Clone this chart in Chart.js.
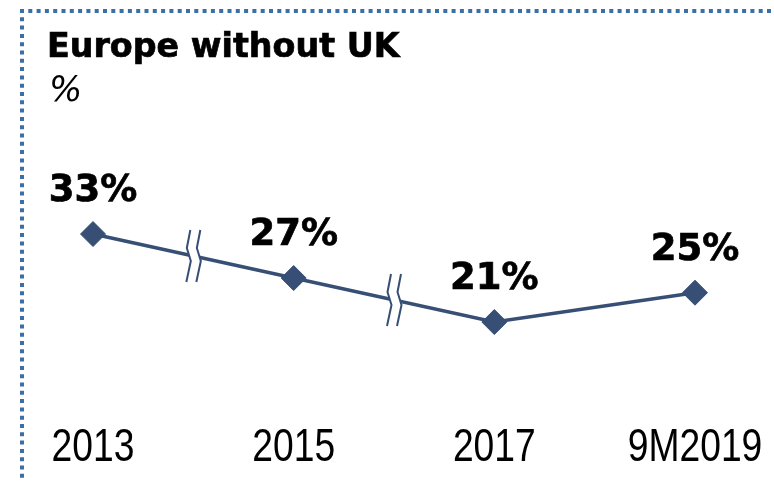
<!DOCTYPE html>
<html>
<head>
<meta charset="utf-8">
<script src="https://cdn.jsdelivr.net/npm/chart.js@4"></script>
<style>
  body { margin: 0; background: #ffffff; }
  #wrap { position: relative; width: 774px; height: 481px; }
</style>
</head>
<body>
<div id="wrap"><canvas id="shareChart"></canvas></div>
<script>
// 연도별 비중 (%)
const labels = ['2013', '2015', '2017', '9M2019'];
const shares = [33, 27, 21, 25];
// 축이 끊기는 구간 (해당 인덱스와 다음 인덱스 사이)
const breaks = [0, 1];

const titleText = 'Europe without UK';
const unitText = '%';

const lineColor = '#374f75';
const frameColor = '#3b6fa7';

// 굵은 글씨를 조금 더 진하게
function boldText(ctx, text, x, y) {
  ctx.fillText(text, x, y);
  ctx.lineWidth = 0.7;
  ctx.strokeStyle = ctx.fillStyle;
  ctx.strokeText(text, x, y);
}

// 점선 테두리 + 제목
const framePlugin = {
  id: 'frame',
  afterDraw(chart) {
    const ctx = chart.ctx;
    ctx.save();
    ctx.strokeStyle = frameColor;
    ctx.lineWidth = 4;
    ctx.setLineDash([4, 4.3]);
    ctx.beginPath();
    ctx.moveTo(20, 11);
    ctx.lineTo(chart.width, 11);
    ctx.moveTo(22, 9);
    ctx.lineTo(22, chart.height);
    ctx.stroke();
    ctx.setLineDash([]);

    ctx.fillStyle = '#000000';
    ctx.textAlign = 'left';
    ctx.textBaseline = 'alphabetic';
    ctx.font = 'bold 33.3px "DejaVu Sans"';
    boldText(ctx, titleText, 47, 57);
    ctx.font = 'oblique 35px "DejaVu Sans"';
    ctx.fillText(unitText, 49, 101);
    ctx.restore();
  }
};

// x축 라벨 (좁은 글꼴 느낌으로 가로 압축)
const xLabelPlugin = {
  id: 'xLabels',
  afterDraw(chart) {
    const ctx = chart.ctx;
    const x = chart.scales.x;
    ctx.save();
    ctx.fillStyle = '#000000';
    ctx.font = '46px "Liberation Sans"';
    ctx.textAlign = 'center';
    ctx.textBaseline = 'alphabetic';
    labels.forEach((lab, i) => {
      const px = x.getPixelForValue(i);
      ctx.save();
      ctx.translate(px, 461);
      ctx.scale(0.81, 1);
      ctx.fillText(lab, 0, 0);
      ctx.restore();
    });
    ctx.restore();
  }
};

// 축 끊김 표시 (물결 두 줄)
const breakPlugin = {
  id: 'axisBreaks',
  afterDatasetsDraw(chart) {
    const ctx = chart.ctx;
    const pts = chart.getDatasetMeta(0).data;
    const shape = [[2, -26], [-1.5, -8], [2.5, 5], [-2, 26]];
    ctx.save();
    breaks.forEach(i => {
      const cx = (pts[i].x + pts[i + 1].x) / 2;
      const cy = (pts[i].y + pts[i + 1].y) / 2;
      const left = shape.map(p => [cx - 5 + p[0], cy + p[1]]);
      const right = shape.map(p => [cx + 5 + p[0], cy + p[1]]);

      // 두 선 사이는 흰색으로 지움
      ctx.fillStyle = '#ffffff';
      ctx.beginPath();
      left.forEach((p, k) => k ? ctx.lineTo(p[0], p[1]) : ctx.moveTo(p[0], p[1]));
      right.slice().reverse().forEach(p => ctx.lineTo(p[0], p[1]));
      ctx.closePath();
      ctx.fill();

      ctx.strokeStyle = lineColor;
      ctx.lineWidth = 2;
      [left, right].forEach(s => {
        ctx.beginPath();
        s.forEach((p, k) => k ? ctx.lineTo(p[0], p[1]) : ctx.moveTo(p[0], p[1]));
        ctx.stroke();
      });
    });
    ctx.restore();
  }
};

// 값 라벨
const valuePlugin = {
  id: 'valueLabels',
  afterDatasetsDraw(chart) {
    const ctx = chart.ctx;
    const pts = chart.getDatasetMeta(0).data;
    ctx.save();
    ctx.fillStyle = '#000000';
    ctx.font = 'bold 37px "DejaVu Sans"';
    ctx.textAlign = 'center';
    ctx.textBaseline = 'alphabetic';
    pts.forEach((p, i) => {
      boldText(ctx, shares[i] + '%', p.x, p.y - 33);
    });
    ctx.restore();
  }
};

new Chart(document.getElementById('shareChart'), {
  type: 'line',
  data: {
    labels: labels,
    datasets: [{
      data: shares,
      borderColor: lineColor,
      borderWidth: 3.5,
      backgroundColor: lineColor,
      pointStyle: 'rectRot',
      pointRadius: 12.5,
      pointBorderWidth: 1,
      pointBackgroundColor: lineColor,
      pointBorderColor: lineColor,
      tension: 0,
      clip: false
    }]
  },
  options: {
    responsive: true,
    maintainAspectRatio: false,
    animation: false,
    layout: {
      padding: { left: 93, right: 79, top: 182.7, bottom: 78.3 }
    },
    plugins: {
      legend: { display: false },
      tooltip: { enabled: false },
      title: { display: false }
    },
    scales: {
      x: {
        display: false,
        offset: false
      },
      y: {
        display: false,
        min: 10,
        max: 40
      }
    }
  },
  plugins: [framePlugin, xLabelPlugin, breakPlugin, valuePlugin]
});
</script>
</body>
</html>
